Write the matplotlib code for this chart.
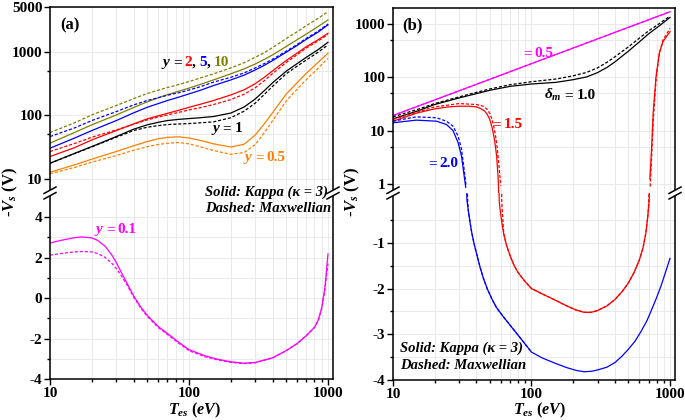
import numpy as np
import matplotlib.pyplot as plt
from matplotlib.ticker import FixedLocator, LogLocator, NullFormatter, FuncFormatter
from matplotlib.lines import Line2D
from matplotlib.patches import Polygon

plt.rcParams['font.family'] = 'Liberation Serif'
plt.rcParams['font.weight'] = 'bold'
plt.rcParams['mathtext.fontset'] = 'custom'
plt.rcParams['mathtext.rm'] = 'Liberation Serif:bold'
plt.rcParams['mathtext.it'] = 'Liberation Serif:italic:bold'
plt.rcParams['mathtext.bf'] = 'Liberation Serif:bold'
plt.rcParams['axes.linewidth'] = 1.1
plt.rcParams['axes.unicode_minus'] = False

# ---- panel (a), upper part (log) ----
Ta = [10, 15, 20, 30, 40, 50, 60, 70, 85, 100, 120, 150, 200, 250, 300, 350, 400, 500, 600,
      700, 850, 1000]
y10_kappa = [36.3, 53.5, 70.5, 101, 132, 162, 187, 210, 239, 266, 303, 358, 447, 535, 638, 755,
             887, 1197, 1531, 1888, 2472, 3133]
y10_maxw = [53.3, 75.9, 101, 142, 182, 219, 247, 272, 304, 337, 383, 445, 553, 668, 813, 966,
            1153, 1596, 2042, 2553, 3311, 4236]
y5_kappa = [30.3, 43.7, 57.4, 82.4, 109, 133, 152, 170, 193, 216, 245, 292, 358, 427, 514, 610,
            721, 973, 1245, 1560, 2018, 2618]
y5_maxw = [46.2, 63.1, 82.4, 114, 145, 170, 188, 206, 226, 249, 279, 330, 394, 462, 553, 649,
           757, 1009, 1288, 1614, 2089, 2710]
y2_kappa = [22.4, 30.9, 40.9, 57.4, 73.0, 87.5, 97.7, 107, 120, 133, 148, 170, 208, 251, 313,
            396, 499, 721, 944, 1194, 1531, 1936]
y2_maxw = [26.9, 35.9, 45.1, 58.7, 72.1, 84.3, 93.3, 101, 111, 121, 131, 147, 176, 214, 270,
           351, 452, 670, 891, 1140, 1462, 1845]
y1_kappa = [17.6, 25.1, 32.2, 46.2, 60.3, 70.5, 77.3, 82.4, 86.1, 88.5, 91.2, 95.3, 108, 135,
            180, 245, 324, 490, 646, 813, 1072, 1396]
y1_maxw = [17.6, 24.9, 31.8, 45.1, 57.4, 64.7, 68.5, 71.3, 72.8, 73.9, 75.9, 78.5, 91.2, 116,
           155, 214, 285, 447, 589, 738, 977, 1270]
yh_kappa = [12.7, 16.6, 20.4, 26.9, 33.1, 38.5, 42.7, 44.9, 45.7, 43.9, 40.3, 35.5, 31.6, 35.1,
            49.0, 74.1, 110, 214, 324, 457, 676, 940]
yh_maxw = [12.0, 15.1, 18.3, 23.2, 28.2, 32.0, 34.7, 36.3, 37.2, 35.5, 32.0, 27.9, 24.3, 26.0,
           34.7, 53.7, 82.2, 166, 257, 363, 550, 783]

# ---- panel (a), lower part (linear), y = 0.1 ----
Ta_low = [10, 12, 15, 17, 20, 22, 25, 28, 30, 33, 36, 40, 45, 50, 60, 70, 85, 100, 130, 160,
          200, 250, 300, 400, 500, 600, 700, 800, 850, 900, 950, 1000]
y01_kappa = [2.72, 2.85, 2.98, 3.02, 2.97, 2.85, 2.55, 2.1, 1.75, 1.2, 0.7, 0.1, -0.45, -0.85,
             -1.4, -1.75, -2.2, -2.55, -2.85, -3.02, -3.15, -3.22, -3.18, -2.95, -2.6, -2.25,
             -1.85, -1.45, -1.1, -0.5, 0.5, 2.18]
y01_maxw = [2.12, 2.2, 2.28, 2.3, 2.28, 2.2, 2.0, 1.7, 1.45, 1.05, 0.62, 0.05, -0.5, -0.9,
            -1.45, -1.8, -2.25, -2.6, -2.9, -3.05, -3.18, -3.24, -3.2, -2.96, -2.6, -2.25,
            -1.85, -1.45, -1.12, -0.55, 0.4, 1.7]

# ---- panel (b) ----
Tb05 = [10, 30, 100, 300, 1000]
d05 = [19.3, 56, 181, 527, 1700]
Tb = [10, 15, 20, 30, 40, 50, 70, 100, 150, 200, 250, 300, 350, 400, 500, 600, 700, 850, 1000]
d10_kappa = [16.7, 23.4, 31.0, 41.2, 49.6, 57.3, 67.9, 75.2, 80.7, 90.6, 102, 123, 153, 195,
             309, 462, 653, 955, 1330]
d10_maxw = [18.2, 25.1, 32.3, 43.1, 52.5, 60.7, 72.9, 83.0, 93.1, 107, 124, 151, 191, 243,
            372, 543, 741, 1047, 1409]

# delta_m = 1.5 (upper left branch, dip below zero, upper right branch)
T15_kappa = [10, 15, 20, 25, 30, 35, 40, 43, 46, 48, 50, 52, 54, 56, 57.5, 58, 58.5, 59.5, 61,
             63, 66, 70, 75, 80, 90, 100, 120, 150, 180, 210, 240, 270, 300, 350, 400, 450,
             500, 550, 600, 640, 670, 690, 708, 716, 736, 756, 793, 837, 890, 1000]
d15_kappa = [15.1, 21.6, 25.7, 28, 28.8, 28.8, 28, 26, 23.2, 20.1, 16.2, 11.4, 6.9, 3.4, 1.24,
             0.6, -0.1, -0.3, -0.55, -0.8, -1.05, -1.28, -1.5, -1.65, -1.85, -2.0, -2.12,
             -2.26, -2.38, -2.47, -2.52, -2.52, -2.48, -2.38, -2.24, -2.07, -1.88, -1.65,
             -1.38, -1.1, -0.78, -0.45, -0.07, 1.24, 4.5, 21.6, 104, 284, 469, 720]
T15_maxw = [10, 20, 30, 40, 45, 48, 50, 52, 54, 56, 58, 60, 61, 63, 66, 70, 75, 80, 90, 100,
            120, 150, 180, 210, 240, 270, 300, 350, 400, 450, 500, 550, 600, 640, 670, 690,
            700, 720, 740, 760, 795, 840, 890, 1000]
d15_maxw = [16.3, 28, 32.3, 31, 28.8, 25, 21, 16.3, 10.6, 6, 2.5, 0.93, -0.1, -0.8, -1.05,
            -1.28, -1.5, -1.65, -1.85, -2.0, -2.12, -2.26, -2.38, -2.47, -2.52, -2.52, -2.48,
            -2.38, -2.24, -2.07, -1.88, -1.65, -1.38, -1.1, -0.78, -0.45, -0.2, 0.9, 4, 18,
            95, 290, 500, 830]

# delta_m = 2.0
T20_kappa = [10, 14.7, 20.6, 24.3, 27.1, 29.5, 31.2, 32.4, 33.5, 34.2, 35, 36, 37, 38.5, 40,
             42.5, 45, 48, 52, 56, 62, 70, 82, 100, 120, 150, 180, 210, 240, 270, 300, 350,
             400, 450, 500, 560, 620, 680, 740, 800, 860, 920, 1000]
d20_kappa = [14.1, 15.8, 15.1, 13.1, 10.1, 6.0, 3.4, 1.65, 0.87, -0.07, -0.3, -0.55, -0.77,
             -1.02, -1.22, -1.53, -1.78, -2.01, -2.24, -2.42, -2.6, -2.8, -3.06, -3.39, -3.52,
             -3.64, -3.73, -3.79, -3.82, -3.81, -3.78, -3.72, -3.62, -3.48, -3.33, -3.15,
             -2.93, -2.71, -2.45, -2.2, -1.95, -1.68, -1.34]
T20_maxw = [10, 14.7, 20.6, 24.3, 27.1, 29.5, 31.2, 32.4, 33.7, 34.6, 35, 36, 37, 38.5, 40,
            42.5, 45, 48, 52, 56, 62, 70, 82, 100]
d20_maxw = [15.1, 18.2, 17.5, 15.1, 12.2, 8.0, 4.6, 2.2, 0.93, -0.07, -0.3, -0.55, -0.77,
            -1.02, -1.22, -1.53, -1.78, -2.01, -2.24, -2.42, -2.6, -2.8, -3.06, -3.39]

OLIVE, BLUE, RED, ORANGE, MAG = '#808000', '#0000ff', '#ff0000', '#ff8000', '#ff00ff'
W, H = 685, 420


def box(l, t, r, b):
    return [l / W, 1 - b / H, (r - l) / W, (b - t) / H]


fig = plt.figure(figsize=(6.85, 4.2), dpi=100)
a_top = fig.add_axes(box(50, 7, 333, 193))
a_bot = fig.add_axes(box(50, 193, 333, 379))
b_top = fig.add_axes(box(393, 8, 675, 193))
b_bot = fig.add_axes(box(393, 193, 675, 380))

fmt = FuncFormatter(lambda v, p: '%g' % v)
for ax in (a_top, a_bot, b_top, b_bot):
    ax.set_xscale('log')
    ax.set_xlim(10, 1087)
    ax.xaxis.set_major_locator(FixedLocator([10, 100, 1000]))
    ax.xaxis.set_major_formatter(fmt)
    ax.xaxis.set_minor_locator(LogLocator(subs=np.arange(2, 10)))
    ax.xaxis.set_minor_formatter(NullFormatter())
    ax.grid(True, which='both', color='#e6e6e6', lw=0.6)
    ax.set_axisbelow(True)
    ax.tick_params(which='both', direction='out', width=1, labelsize=11, pad=1.5)
    ax.tick_params(which='major', length=4)
    ax.tick_params(which='minor', length=2.5)

for ax in (a_top, b_top):
    ax.set_yscale('log', nonpositive='mask')
    ax.spines['bottom'].set_visible(False)
    ax.tick_params(axis='x', which='both', bottom=False, labelbottom=False)
    ax.yaxis.set_major_formatter(fmt)
    ax.yaxis.set_minor_formatter(NullFormatter())
for ax in (a_bot, b_bot):
    ax.spines['top'].set_visible(False)

a_top.set_ylim(6.0, 5000)
a_top.yaxis.set_major_locator(FixedLocator([10, 100, 1000, 5000]))
a_top.yaxis.set_minor_locator(FixedLocator([50, 500]))
b_top.set_ylim(0.68, 2000)
b_top.yaxis.set_major_locator(FixedLocator([1, 10, 100, 1000]))
b_top.yaxis.set_minor_locator(FixedLocator([5, 50, 500]))
a_bot.set_ylim(-4, 5.19)
a_bot.yaxis.set_major_locator(FixedLocator([-4, -2, 0, 2, 4]))
a_bot.yaxis.set_minor_locator(FixedLocator([-3, -1, 1, 3]))
b_bot.set_ylim(-4, 0.09)
b_bot.yaxis.set_major_locator(FixedLocator([-4, -3, -2, -1]))
b_bot.yaxis.set_minor_locator(FixedLocator([-3.5, -2.5, -1.5, -0.5]))

LW = 0.9
DASH = (2.5, 1.5)


def pair(axes, T1, v1, T2, v2, c):
    for ax in axes:
        ax.plot(T1, v1, color=c, lw=LW)
        ax.plot(T2, v2, color=c, lw=LW, dashes=DASH)


pair([a_top], Ta, y10_kappa, Ta, y10_maxw, OLIVE)
pair([a_top], Ta, y5_kappa, Ta, y5_maxw, BLUE)
pair([a_top], Ta, y2_kappa, Ta, y2_maxw, RED)
pair([a_top], Ta, y1_kappa, Ta, y1_maxw, 'black')
pair([a_top], Ta, yh_kappa, Ta, yh_maxw, ORANGE)
pair([a_bot], Ta_low, y01_kappa, Ta_low, y01_maxw, MAG)

pair([b_top], Tb05, d05, Tb05, d05, MAG)
pair([b_top], Tb, d10_kappa, Tb, d10_maxw, 'black')
pair([b_top, b_bot], T15_kappa, d15_kappa, T15_maxw, d15_maxw, RED)
pair([b_top, b_bot], T20_kappa, d20_kappa, T20_maxw, d20_maxw, BLUE)


def brk(x, y):
    fx = lambda v: v / W
    fy = lambda v: 1 - v / H
    l1 = [(x - 6, y + 0.5), (x + 6, y - 6)]
    l2 = [(x - 6, y + 6), (x + 6, y - 0.5)]
    poly = Polygon([(fx(p[0]), fy(p[1])) for p in l1 + l2[::-1]], closed=True,
                   facecolor='white', edgecolor='none', transform=fig.transFigure, zorder=5)
    fig.add_artist(poly)
    for l in (l1, l2):
        fig.add_artist(Line2D([fx(l[0][0]), fx(l[1][0])], [fy(l[0][1]), fy(l[1][1])],
                              color='black', lw=1.1, transform=fig.transFigure, zorder=6))


for x in (50, 333, 393, 675):
    brk(x, 193)

renderer = fig.canvas.get_renderer()


def rich(x, y, parts, size=11):
    for s, c, st, gap in parts:
        t = fig.text(x / W, 1 - y / H, s, color=c, fontstyle=st, fontsize=size, va='baseline')
        x += t.get_window_extent(renderer).width + gap


K = 'black'
rich(60, 29, [('(a)', K, 'normal', 0)], 12)
rich(402, 29, [('(b)', K, 'normal', 0)], 12)
rich(163, 66, [('y', K, 'italic', 3), ('=', K, 'normal', 3), ('2', RED, 'normal', 0),
               (',', K, 'normal', 3), ('5', BLUE, 'normal', 0), (',', K, 'normal', 3),
               ('10', OLIVE, 'normal', 0)])
rich(213, 132, [('y', K, 'italic', 3), ('=', K, 'normal', 3), ('1', K, 'normal', 0)])
rich(245, 161, [('y', ORANGE, 'italic', 3), ('=', ORANGE, 'normal', 3), ('0.5', ORANGE, 'normal', 0)])
rich(96, 233, [('y', MAG, 'italic', 3), ('=', MAG, 'normal', 3), ('0.1', MAG, 'normal', 0)])
rich(205, 196, [('Solid: Kappa (κ = 3)', K, 'italic', 0)], 10.5)
rich(205, 212, [('Dashed: Maxwellian', K, 'italic', 0)], 10.5)

rich(523, 57, [('=', MAG, 'normal', 3), ('0.5', MAG, 'normal', 0)])
rich(544, 99, [(r'$\delta_m$', K, 'normal', 3), ('=', K, 'normal', 3), ('1.0', K, 'normal', 0)])
rich(492, 128, [('=', RED, 'normal', 3), ('1.5', RED, 'normal', 0)])
rich(428, 167, [('=', BLUE, 'normal', 3), ('2.0', BLUE, 'normal', 0)])
rich(400, 352, [('Solid: Kappa (κ = 3)', K, 'italic', 0)], 10.5)
rich(400, 369, [('Dashed: Maxwellian', K, 'italic', 0)], 10.5)

for x in (10, 352):
    fig.text(x / W, 1 - 192 / H, r'-$V_s$ (V)', rotation=90, ha='center', va='center', fontsize=12)
for x in (195, 540):
    fig.text(x / W, 1 - 410 / H, r'$T_{es}$ $(eV)$', ha='center', va='center', fontsize=11.5)

fig.savefig('out.png', dpi=100)
